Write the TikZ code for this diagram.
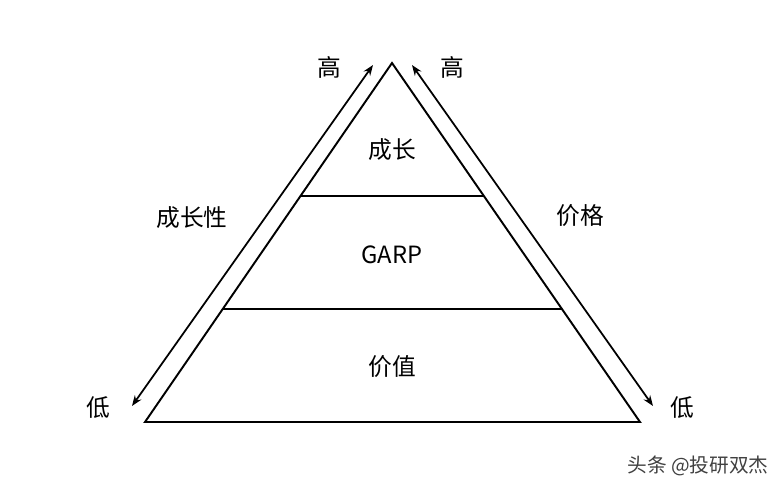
\documentclass[tikz,border=0pt]{standalone}
\usepackage{fontspec}
\setmainfont{Noto Sans CJK SC}
\usepackage{tikz}
\usetikzlibrary{calc, positioning, arrows.meta}

\begin{document}
\begin{tikzpicture}[x=0.02cm, y=-0.02cm, line width=1.1pt,
    every node/.style={font=\fontsize{13.5}{15}\selectfont, inner sep=0pt},
    axisarrow/.style={{Stealth[length=6pt,width=4.5pt]}-{Stealth[length=6pt,width=4.5pt]}, line width=1pt}]
    \useasboundingbox (0,0) rectangle (784,493);
    % pyramid
    \coordinate (apex) at (392,63);
    \coordinate (bl) at (145,422);
    \coordinate (br) at (640,422);
    \draw (apex) -- (bl) -- (br) -- cycle;
    \foreach \t/\n in {0.370/a, 0.685/b} {
        \draw ($(apex)!\t!(bl)$) coordinate (l\n) -- ($(apex)!\t!(br)$) coordinate (r\n);
    }
    % levels
    \node (top) at (392,150) {成长};
    \node (mid) at (392,255) {GARP};
    \node (low) at (392,367) {价值};
    % side arrows
    \coordinate (lhi) at (373,65);
    \coordinate (llo) at (132,406);
    \coordinate (rhi) at (412,65);
    \coordinate (rlo) at (653,406);
    \draw [axisarrow] (llo) -- (lhi);
    \draw [axisarrow] (rhi) -- (rlo);
    \node (hiL) at (329,67) {高};
    \node (hiR) at (452,67) {高};
    \node (loL) at (98,408) {低};
    \node (loR) at (682,408) {低};
    \node (growth) at (192,218) {成长性};
    \node (price) at (580,216) {价格};
    \node [font=\fontsize{11.2}{13}\selectfont, text=black!75] (mark) at (698,466) {头条 @投研双杰};
\end{tikzpicture}
\end{document}
